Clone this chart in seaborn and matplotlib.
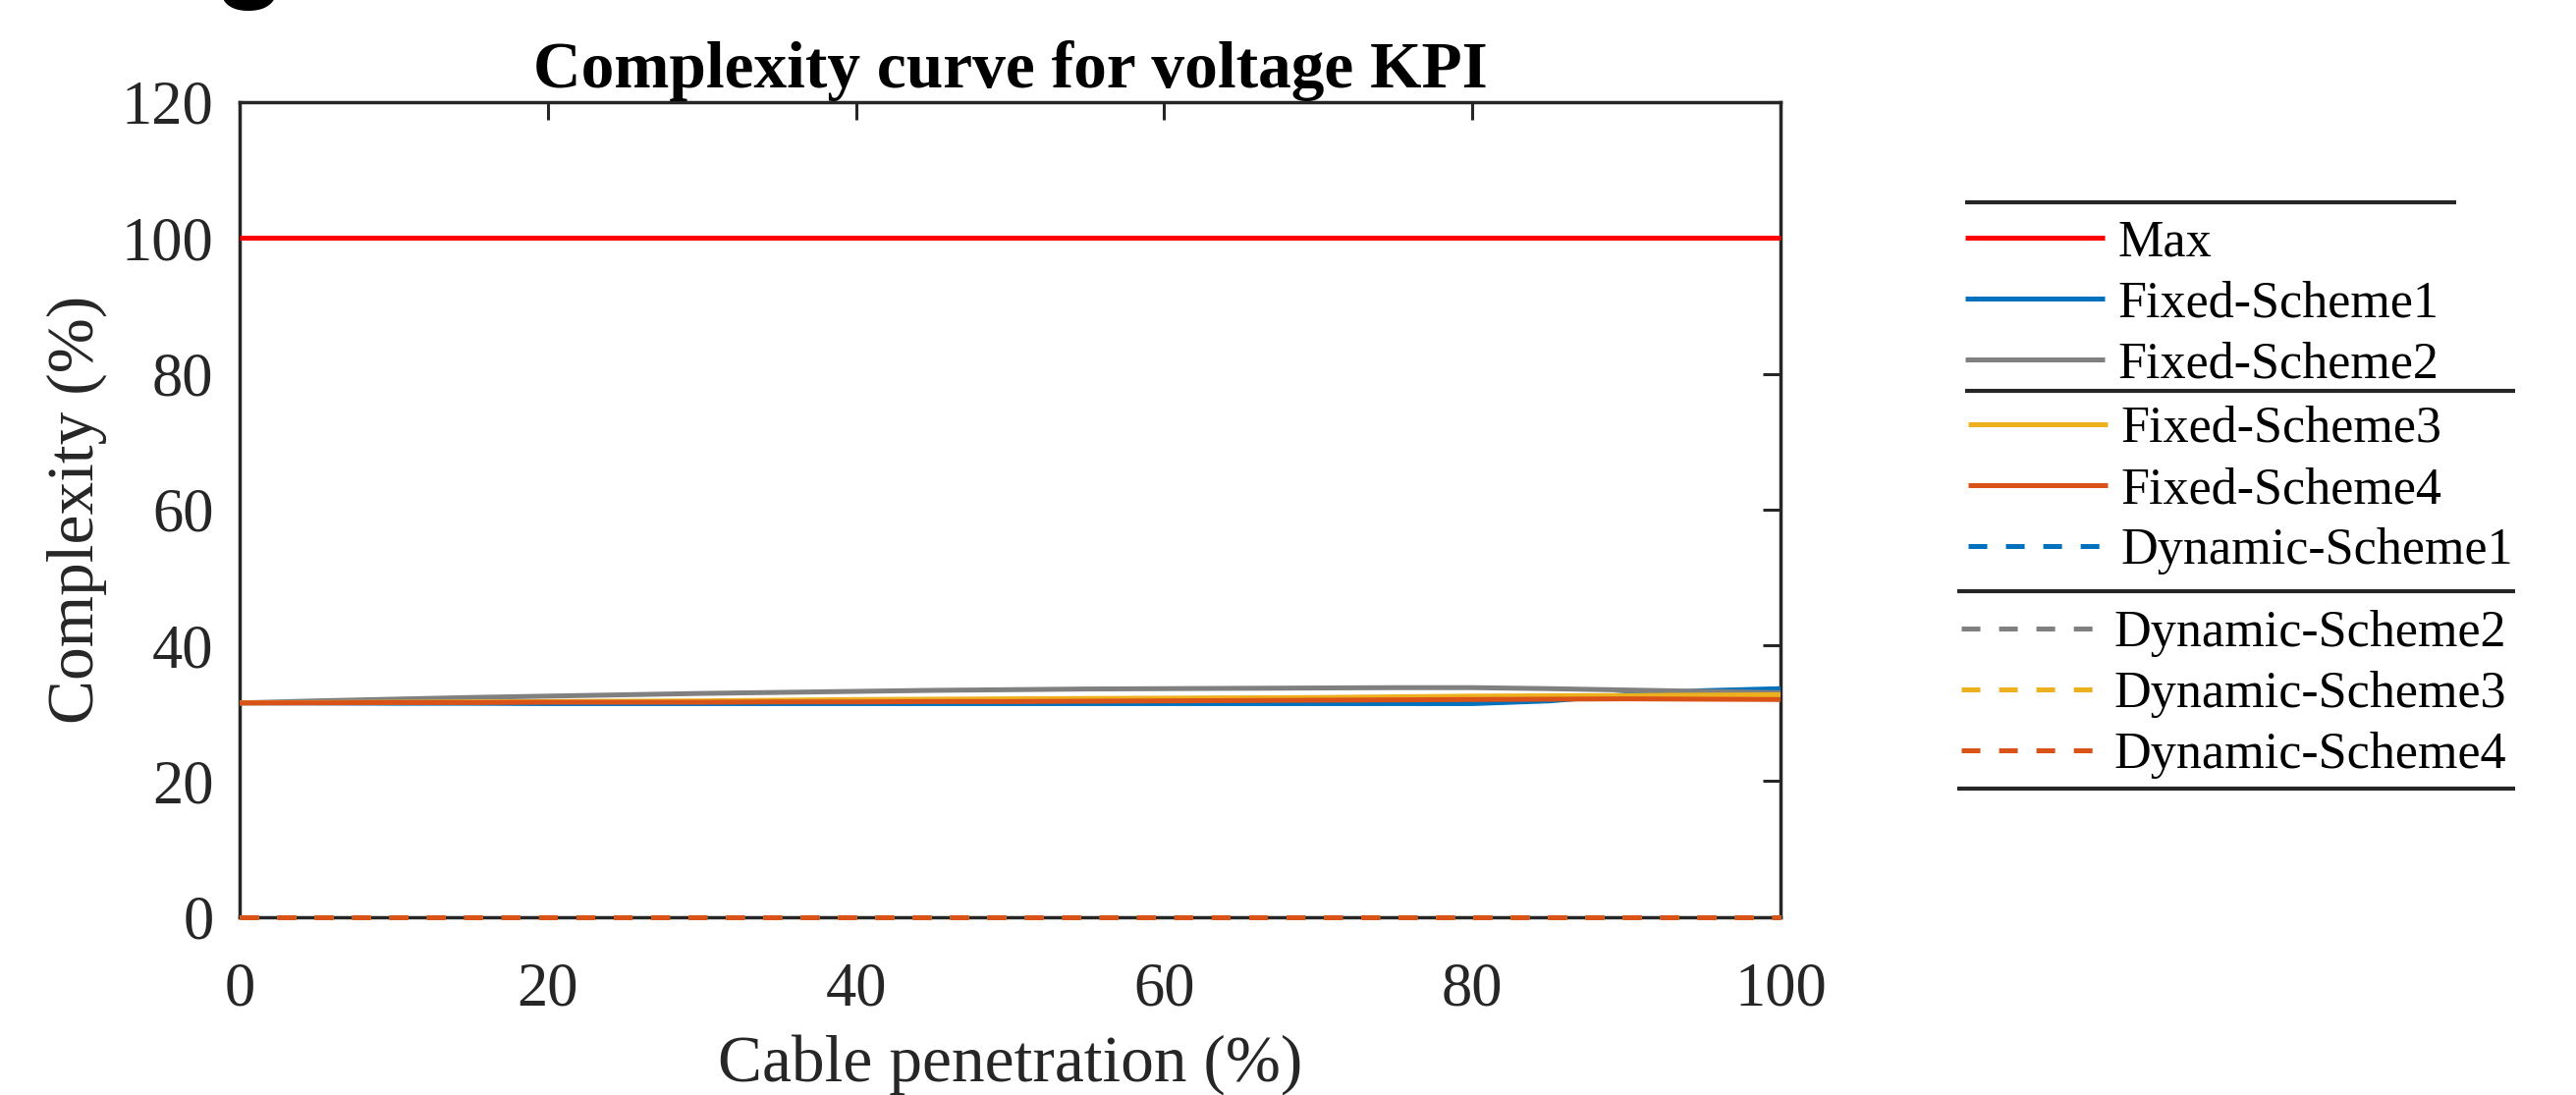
import matplotlib
matplotlib.use("Agg")
import matplotlib.pyplot as plt
import seaborn as sns
from matplotlib.lines import Line2D

# ---------------- data ----------------
penetration = [0, 5, 10, 15, 20, 25, 30, 35, 40, 45, 50,
               55, 60, 65, 70, 75, 80, 85, 90, 95, 100]
max_curve = [100] * 21
fixed_scheme1 = [31.5, 31.5, 31.45, 31.45, 31.4, 31.4, 31.4, 31.4, 31.4, 31.4, 31.4,
                 31.4, 31.4, 31.4, 31.4, 31.4, 31.4, 31.8, 32.7, 33.3, 33.6]
fixed_scheme2 = [31.5, 31.8, 32.05, 32.3, 32.5, 32.7, 32.9, 33.05, 33.2, 33.35, 33.45,
                 33.55, 33.6, 33.65, 33.7, 33.75, 33.75, 33.6, 33.4, 33.2, 33.0]
fixed_scheme3 = [31.5, 31.55, 31.6, 31.65, 31.7, 31.75, 31.8, 31.9, 32.0, 32.05, 32.1,
                 32.15, 32.2, 32.25, 32.3, 32.4, 32.5, 32.55, 32.6, 32.65, 32.7]
fixed_scheme4 = [31.5, 31.5, 31.55, 31.55, 31.6, 31.6, 31.6, 31.65, 31.65, 31.7, 31.7,
                 31.75, 31.8, 31.85, 31.9, 31.95, 32.0, 32.05, 32.1, 32.05, 32.0]
dynamic_scheme1 = [0] * 21
dynamic_scheme2 = [0] * 21
dynamic_scheme3 = [0] * 21
dynamic_scheme4 = [0] * 21

series_labels = ["Max", "Fixed-Scheme1", "Fixed-Scheme2", "Fixed-Scheme3", "Fixed-Scheme4",
                 "Dynamic-Scheme1", "Dynamic-Scheme2", "Dynamic-Scheme3", "Dynamic-Scheme4"]
series_values = [max_curve, fixed_scheme1, fixed_scheme2, fixed_scheme3, fixed_scheme4,
                 dynamic_scheme1, dynamic_scheme2, dynamic_scheme3, dynamic_scheme4]
series_colors = ["#FF0000", "#0072BD", "#808080", "#EDB120", "#D95319",
                 "#0072BD", "#808080", "#EDB120", "#D95319"]
series_dashed = [False, False, False, False, False, True, True, True, True]

x_ticks = [0, 20, 40, 60, 80, 100]
y_ticks = [0, 20, 40, 60, 80, 100, 120]

title_text = "Complexity curve for voltage KPI"
x_label = "Cable penetration (%)"
y_label = "Complexity (%)"

# ---------------- style ----------------
sns.set_style("white")
plt.rcParams["font.family"] = ["Liberation Serif", "DejaVu Serif"]
plt.rcParams["lines.scale_dashes"] = False

W, H = 2623, 1115
DPI = 100
fig = plt.figure(figsize=(W / DPI, H / DPI), dpi=DPI)
fig.patch.set_facecolor("white")

def fx(px):
    return px / W

def fy(py):
    return 1 - py / H

ax_left, ax_right, ax_top, ax_bottom = 244, 1813, 104, 933.5
ax = fig.add_axes([fx(ax_left), fy(ax_bottom), fx(ax_right - ax_left), (ax_bottom - ax_top) / H])

LW = 3.6
DASH = (0, (13.7, 13.7))
for lab, vals, col, dashed in zip(series_labels, series_values, series_colors, series_dashed):
    sns.lineplot(x=penetration, y=vals, ax=ax, color=col, linewidth=LW,
                 linestyle=DASH if dashed else "-", legend=False,
                 solid_capstyle="butt", dash_capstyle="butt",
                 clip_on=False, zorder=3)

lines = ax.get_lines()
for ln, lab in zip(lines, series_labels):
    ln.set_label(lab)

ax.set_xlim(0, 100)
ax.set_ylim(0, 120)
ax.set_xticks(x_ticks)
ax.set_yticks(y_ticks)
ax.set_xticklabels([str(t) for t in x_ticks])
ax.set_yticklabels([str(t) for t in y_ticks])

ink = "#262626"
for sp in ax.spines.values():
    sp.set_visible(True)
    sp.set_color(ink)
    sp.set_linewidth(2.5)
ax.tick_params(direction="in", length=13, width=2.2, top=True, right=True,
               labelsize=45, colors=ink)
ax.tick_params(axis="x", pad=33)
ax.tick_params(axis="y", pad=19)
ax.grid(False)

ax.set_xlabel(x_label, fontsize=48.5, color=ink, labelpad=11)
ax.set_ylabel(y_label, fontsize=48.5, color=ink, labelpad=10.5)
ax.set_title(title_text, fontsize=48.5, fontweight="bold", color="black", pad=11)

# ---------------- legend (three stacked groups) ----------------
LEG_FS = 37.5
groups = [(0, 3, 2001, 223.5), (3, 6, 2004, 413), (6, 9, 1997, 621)]
for start, stop, lx, ly in groups:
    leg = fig.legend(lines[start:stop], series_labels[start:stop],
                     loc="upper left", bbox_to_anchor=(fx(lx), fy(ly)),
                     bbox_transform=fig.transFigure, frameon=False,
                     borderpad=0, borderaxespad=0, handlelength=2.73,
                     handletextpad=0.25, labelspacing=0.27, fontsize=LEG_FS)
    for t in leg.get_texts():
        t.set_color("black")

sep_lines = [(2001, 2501, 206), (2001, 2561, 398), (1993, 2561, 602), (1993, 2561, 803)]
for x0, x1, yy in sep_lines:
    fig.add_artist(Line2D([fx(x0), fx(x1)], [fy(yy), fy(yy)], transform=fig.transFigure,
                          color=ink, linewidth=3.0, solid_capstyle="butt"))

# clipped panel letter at the very top
fig.text(fx(254), fy(11), "g", fontsize=86, fontweight="bold",
         family=["Liberation Sans", "DejaVu Sans"], ha="center", va="bottom", color="black")

fig.savefig("out.png", dpi=DPI, facecolor="white")
